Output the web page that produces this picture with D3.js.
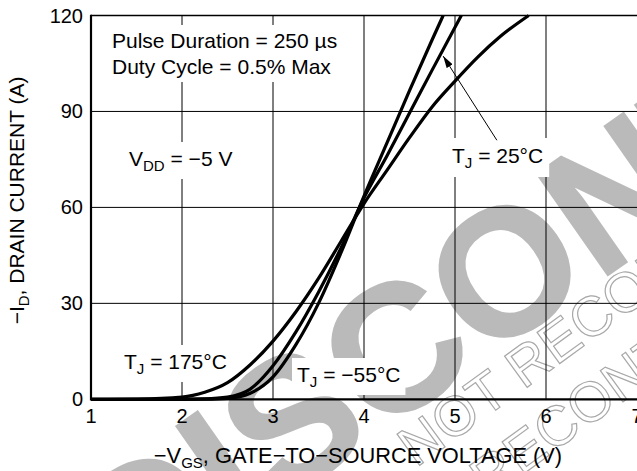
<!DOCTYPE html>
<html>
<head>
<meta charset="utf-8">
<script src="https://cdn.jsdelivr.net/npm/d3@7"></script>
<style>
  body { margin: 0; background: #fff; }
  text { font-family: "Liberation Sans", Arial, Helvetica, sans-serif; fill: #000; }
</style>
</head>
<body>
<svg id="chart" width="637" height="471"></svg>
<script>
const vgs_175 = [1.0, 1.5, 2.0, 2.25, 2.5, 2.75, 3.0, 3.25, 3.5, 3.75, 4.0, 4.25, 4.5, 4.75, 5.0, 5.25, 5.5, 5.81];
const id_175  = [0, 0.1, 0.7, 2.2, 5.2, 10.8, 18.2, 27.3, 37.8, 49.5, 61.2, 71.5, 81.8, 91.5, 99.5, 107, 113.5, 120];
const vgs_25  = [1.0, 2.0, 2.25, 2.5, 2.75, 3.0, 3.25, 3.5, 3.75, 4.0, 4.25, 4.5, 4.75, 5.07];
const id_25   = [0, 0.05, 0.15, 0.7, 3.2, 10.5, 21, 33.5, 47.5, 63, 76, 89.5, 103, 120];
const vgs_m55 = [1.0, 2.0, 2.25, 2.5, 2.75, 3.0, 3.25, 3.5, 3.75, 4.0, 4.25, 4.5, 4.75, 4.87];
const id_m55  = [0, 0, 0.05, 0.3, 1.9, 7, 17, 30, 46, 63.5, 80, 96.5, 112.5, 120];

const x_ticks = [1, 2, 3, 4, 5, 6, 7];
const y_ticks = [0, 30, 60, 90, 120];

//  annotation anchors in data units
const arrow_tail = [5.46, 81];
const arrow_tip  = [4.87, 107.3];

function draw_chart() {
  const margin = ({top: 15.5, right: 0, bottom: 71.7, left: 91});
  const w = 637, h = 471;
  const svg = d3.select("#chart");

  const x = d3.scaleLinear().domain([1, 7]).range([margin.left, w - margin.right]);
  const y = d3.scaleLinear().domain([0, 120]).range([h - margin.bottom, margin.top]);

  svg.append("rect").attr("width", w).attr("height", h).attr("fill", "#fff");

  //  watermark
  const wm = svg.append("g").attr("transform", "translate(131,609) rotate(-35)");
  wm.append("text")
    .attr("font-size", 180)
    .attr("font-weight", "bold")
    .style("fill", "#bababa")
    .attr("stroke", "#bababa")
    .attr("stroke-width", 2)
    .text("DISCONTINUED");
  const wm2 = svg.append("g").attr("transform", "translate(416,468) rotate(-36)");
  wm2.append("text")
    .attr("font-size", 56)
    .style("fill", "none")
    .attr("stroke", "#a8a8a8")
    .attr("stroke-width", 1.2)
    .text("NOT RECOMMENDED");
  wm2.append("text")
    .attr("x", 40).attr("y", 68)
    .attr("font-size", 56)
    .style("fill", "none")
    .attr("stroke", "#a8a8a8")
    .attr("stroke-width", 1.2)
    .text("RECONTACT US");

  //  grid
  svg.append("g")
    .selectAll("line")
    .data(x_ticks.slice(1, -1))
    .join("line")
      .attr("x1", d => x(d)).attr("x2", d => x(d))
      .attr("y1", y(120)).attr("y2", y(0))
      .attr("stroke", "#000").attr("stroke-width", 1);

  svg.append("g")
    .selectAll("line")
    .data(y_ticks.slice(1, -1))
    .join("line")
      .attr("x1", x(1)).attr("x2", x(7))
      .attr("y1", d => y(d)).attr("y2", d => y(d))
      .attr("stroke", "#000").attr("stroke-width", 1);

  //  labels with white boxes
  const labels = svg.append("g");

  function add_label(px, py, parts, pad) {
    const g = labels.append("g");
    const bg = g.append("rect").attr("fill", "#fff");
    const t = g.append("text").attr("x", px).attr("y", py).attr("font-size", 21);
    parts.forEach(p => {
      if (p.sub)
        t.append("tspan").attr("font-size", 15).attr("dy", 5).text(p.sub);
      else
        t.append("tspan").attr("dy", p.after_sub ? -5 : 0).text(p.t);
    });
    const b = t.node().getBBox();
    bg.attr("x", b.x - pad).attr("y", b.y - pad)
      .attr("width", b.width + 2 * pad).attr("height", b.height + 2 * pad);
  }

  add_label(112, 48, [{t: "Pulse Duration = 250 \u00b5s"}], 4);
  add_label(112, 74, [{t: "Duty Cycle = 0.5% Max"}], 4);
  add_label(129, 166, [{t: "V"}, {sub: "DD"}, {t: " = \u22125 V", after_sub: true}], 5);
  add_label(452, 163, [{t: "T"}, {sub: "J"}, {t: " = 25\u00b0C", after_sub: true}], 6);
  add_label(124, 369, [{t: "T"}, {sub: "J"}, {t: " = 175\u00b0C", after_sub: true}], 5);
  add_label(297, 382, [{t: "T"}, {sub: "J"}, {t: " = \u221255\u00b0C", after_sub: true}], 5);

  //  curves
  const line = d3.line()
    .x(d => x(d[0]))
    .y(d => y(d[1]))
    .curve(d3.curveMonotoneX);

  const series = [
    d3.zip(vgs_175, id_175),
    d3.zip(vgs_25, id_25),
    d3.zip(vgs_m55, id_m55)
  ];

  svg.append("g")
    .selectAll("path")
    .data(series)
    .join("path")
      .attr("d", line)
      .attr("fill", "none")
      .attr("stroke", "#000")
      .attr("stroke-width", 3.2)
      .attr("stroke-linejoin", "round");

  //  arrow for 25 C
  svg.append("defs").append("marker")
    .attr("id", "arr")
    .attr("viewBox", "0 0 12 7")
    .attr("refX", 12).attr("refY", 3.5)
    .attr("markerWidth", 12).attr("markerHeight", 7)
    .attr("markerUnits", "userSpaceOnUse")
    .attr("orient", "auto")
    .append("path").attr("d", "M0,0 L12,3.5 L0,7 Z").attr("fill", "#000");

  svg.append("line")
    .attr("x1", x(arrow_tail[0])).attr("y1", y(arrow_tail[1]))
    .attr("x2", x(arrow_tip[0])).attr("y2", y(arrow_tip[1]))
    .attr("stroke", "#000").attr("stroke-width", 1)
    .attr("marker-end", "url(#arr)");

  //  frame
  svg.append("line")
    .attr("x1", x(1)).attr("x2", x(7)).attr("y1", y(120)).attr("y2", y(120))
    .attr("stroke", "#000").attr("stroke-width", 1.5);
  svg.append("line")
    .attr("x1", x(1)).attr("x2", x(7)).attr("y1", y(0)).attr("y2", y(0))
    .attr("stroke", "#000").attr("stroke-width", 2.2);
  svg.append("line")
    .attr("x1", x(1)).attr("x2", x(1)).attr("y1", y(120) - 0.75).attr("y2", y(0) + 1.1)
    .attr("stroke", "#000").attr("stroke-width", 2.2);

  //  tick labels
  svg.append("g")
    .selectAll("text")
    .data(x_ticks)
    .join("text")
      .attr("x", d => x(d))
      .attr("y", y(0) + 24)
      .attr("text-anchor", "middle")
      .attr("font-size", 20)
      .text(d => d);

  svg.append("g")
    .selectAll("text")
    .data(y_ticks)
    .join("text")
      .attr("x", x(1) - 8)
      .attr("y", d => y(d) + 7)
      .attr("text-anchor", "end")
      .attr("font-size", 20)
      .text(d => d);

  //  axis titles
  const xt = svg.append("text")
    .attr("x", (x(1) + x(7)) / 2 - 6)
    .attr("y", 463)
    .attr("text-anchor", "middle")
    .attr("font-size", 21.8);
  xt.append("tspan").text("\u2212V");
  xt.append("tspan").attr("font-size", 15).attr("dy", 5).text("GS");
  xt.append("tspan").attr("dy", -5).text(", GATE\u2212TO\u2212SOURCE VOLTAGE (V)");

  const yt = svg.append("text")
    .attr("transform", "translate(24," + ((y(0) + y(120)) / 2 - 7) + ") rotate(-90)")
    .attr("text-anchor", "middle")
    .attr("font-size", 21);
  yt.append("tspan").text("\u2212I");
  yt.append("tspan").attr("font-size", 15).attr("dy", 5).text("D");
  yt.append("tspan").attr("dy", -5).text(", DRAIN CURRENT (A)");
}

draw_chart();
</script>
</body>
</html>
